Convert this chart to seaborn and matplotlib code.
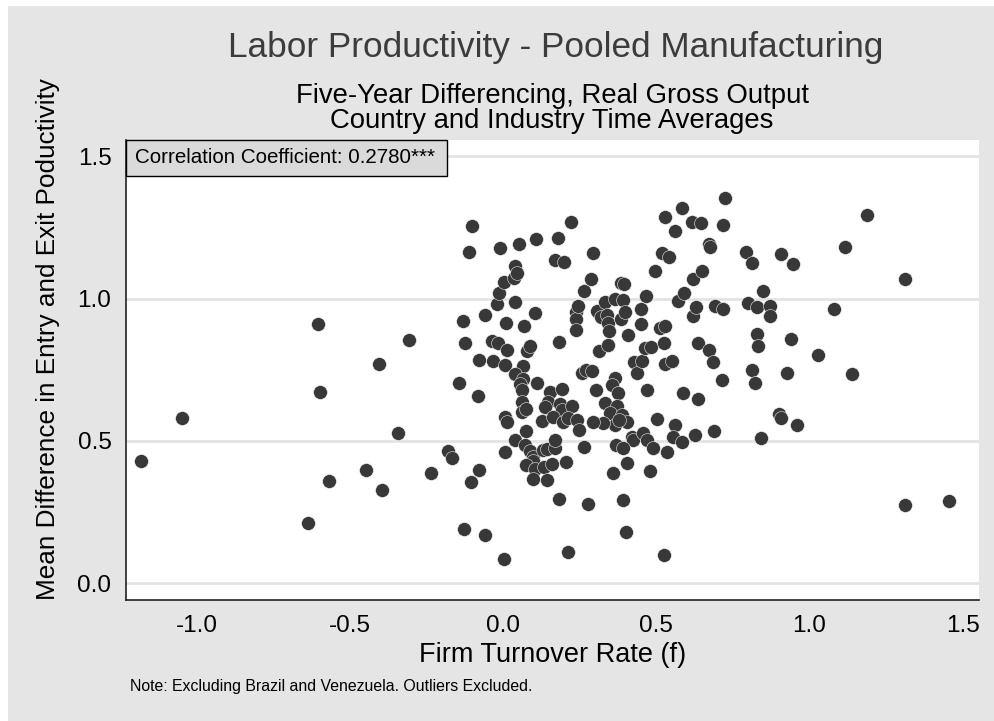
"""
Labor Productivity - Pooled Manufacturing 散点图
输出：out.png
"""
import pandas as pd
import numpy as np
import matplotlib.pyplot as plt
import seaborn as sns
from matplotlib.patches import Rectangle

# =============================================
# 样式
# =============================================
sns.set_style("white")
plt.rcParams['font.family'] = ['Liberation Sans', 'DejaVu Sans']
plt.rcParams['axes.unicode_minus'] = False

# =============================================
# 1. 数据（从图上读出来的）
# =============================================
turnover = [
    -1.180, -1.048, -0.636, -0.605, -0.596, -0.568, -0.448, -0.406, -0.395, -0.344, -0.308,
    -0.235, -0.181, -0.165, -0.144, -0.130, -0.128, -0.125, -0.111, -0.105, -0.101, -0.080,
    -0.079, -0.078, -0.059, -0.058,
    -0.035, -0.032, -0.019, -0.015, -0.013, -0.011, 0.002, 0.005, 0.009, 0.014, 0.035,
    0.038, 0.040, 0.045, 0.052, 0.066, 0.070, 0.077, 0.089, 0.104, 0.109,
    0.003, 0.005, 0.014, 0.038, 0.064, 0.057, 0.061, 0.061, 0.062, 0.074,
    0.075, 0.110, 0.153, 0.148, 0.137, 0.192, 0.186, 0.191, 0.224, 0.126, 0.164, 0.197,
    0.213, 0.240, 0.247, 0.257, 0.270, 0.289, 0.264,
    0.007, 0.040, 0.072, 0.088, 0.097, 0.099, 0.075, 0.104, 0.135, 0.160, 0.131, 0.145,
    0.170, 0.170, 0.206, 0.099, 0.143,
    0.182, 0.213, 0.276,
    0.171, 0.180, 0.182, 0.199, 0.223, 0.237, 0.239, 0.237, 0.244, 0.264, 0.287, 0.294,
    0.314, 0.307, 0.319, 0.332, 0.340, 0.343, 0.344, 0.346, 0.366, 0.385, 0.386, 0.391,
    0.395, 0.397, 0.409, 0.428, 0.438, 0.449, 0.450, 0.453, 0.463, 0.466, 0.483, 0.495,
    0.512, 0.520, 0.526, 0.529, 0.529, 0.530, 0.541, 0.551, 0.561, 0.570, 0.585, 0.592,
    0.617, 0.620, 0.621, 0.630, 0.635, 0.648,
    0.303, 0.365, 0.355, 0.375, 0.469, 0.333, 0.371, 0.349, 0.387, 0.404, 0.365, 0.327,
    0.295, 0.377, 0.501, 0.561, 0.554, 0.583, 0.626, 0.420, 0.425, 0.458, 0.469, 0.490,
    0.534, 0.370, 0.392, 0.404, 0.480, 0.360, 0.586, 0.637, 0.393, 0.400, 0.524,
    0.725, 0.718, 0.646, 0.673, 0.675, 0.793, 0.813, 0.908, 0.946, 1.188, 1.115, 1.312,
    0.849, 0.799, 0.828, 0.871, 0.872, 0.691, 0.717, 1.080, 0.828, 0.831, 0.940, 1.028,
    0.672, 0.685, 0.716, 0.813, 0.821, 0.928, 1.140, 0.901, 0.907, 0.958, 0.687, 0.841,
    1.312, 1.454,
]
prod_gap = [
    0.428, 0.582, 0.212, 0.911, 0.672, 0.359, 0.399, 0.771, 0.328, 0.528, 0.854,
    0.386, 0.464, 0.441, 0.705, 0.920, 0.191, 0.845, 1.164, 0.355, 1.254, 0.658,
    0.397, 0.784, 0.170, 0.942,
    0.852, 0.782, 0.982, 0.843, 1.019, 1.177, 1.059, 0.767, 0.913, 0.818, 1.071,
    0.987, 1.113, 1.091, 1.192, 0.764, 0.905, 0.814, 0.835, 0.950, 1.208,
    0.084, 0.585, 0.566, 0.736, 0.718, 0.700, 0.679, 0.636, 0.603, 0.612,
    0.533, 0.702, 0.670, 0.635, 0.620, 0.681, 0.630, 0.609, 0.621, 0.571, 0.583, 0.565,
    0.580, 0.575, 0.538, 0.740, 0.749, 0.745, 0.477,
    0.461, 0.503, 0.484, 0.463, 0.445, 0.430, 0.414, 0.400, 0.407, 0.418, 0.468, 0.470,
    0.474, 0.503, 0.427, 0.365, 0.362,
    0.296, 0.108, 0.279,
    1.135, 1.212, 0.848, 1.128, 1.268, 0.954, 0.927, 0.891, 0.974, 1.026, 1.069, 1.160,
    0.814, 0.956, 0.936, 0.987, 0.942, 0.838, 0.913, 0.886, 0.999, 0.927, 1.055, 0.995,
    1.052, 0.954, 0.872, 0.777, 0.740, 0.911, 0.965, 0.782, 0.826, 1.010, 0.831, 1.097,
    0.896, 1.161, 0.845, 0.905, 0.770, 1.287, 1.146, 0.780, 1.237, 0.993, 1.318, 1.021,
    1.269, 1.068, 0.937, 0.972, 0.843, 1.097,
    0.680, 0.720, 0.695, 0.667, 0.679, 0.632, 0.621, 0.597, 0.591, 0.568, 0.556, 0.562,
    0.568, 0.574, 0.576, 0.556, 0.515, 0.497, 0.521, 0.515, 0.503, 0.527, 0.503, 0.474,
    0.462, 0.486, 0.474, 0.422, 0.394, 0.386, 0.667, 0.646, 0.294, 0.181, 0.099,
    1.352, 1.259, 1.267, 1.191, 1.180, 1.165, 1.126, 1.158, 1.122, 1.293, 1.180, 1.069,
    1.027, 0.986, 0.972, 0.974, 0.937, 0.975, 0.965, 0.962, 0.876, 0.832, 0.858, 0.802,
    0.821, 0.776, 0.713, 0.750, 0.702, 0.738, 0.736, 0.593, 0.582, 0.555, 0.536, 0.510,
    0.273, 0.290,
]

x_ticks = [-1.0, -0.5, 0.0, 0.5, 1.0, 1.5]
y_ticks = [0.0, 0.5, 1.0, 1.5]

df = pd.DataFrame({"turnover": turnover, "gap": prod_gap})

# =============================================
# 2. 画布（外面一圈灰底，左上角留一点白边）
# =============================================
fig = plt.figure(figsize=(9.94, 7.21), dpi=100, facecolor="white")
fig.patches.append(Rectangle((8 / 994, 0), 1, 1 - 6 / 721, transform=fig.transFigure,
                             facecolor="#e5e5e5", edgecolor="none", zorder=-10))

ax = fig.add_axes([126 / 994, 1 - 600 / 721, 853 / 994, 460 / 721])
ax.set_facecolor("white")

# 网格线
for yv in y_ticks:
    ax.axhline(yv, color="#e3e3e3", linewidth=2, zorder=0)

sns.scatterplot(data=df, x="turnover", y="gap", ax=ax,
                color="#383838", s=100, edgecolor="white", linewidth=0.35,
                zorder=3, legend=False)

ax.set_xlim(-1.23, 1.553)
ax.set_ylim(-0.059, 1.557)
ax.set_xticks(x_ticks)
ax.set_yticks(y_ticks)
ax.set_xticklabels([f"{v:.1f}" for v in x_ticks])
ax.set_yticklabels([f"{v:.1f}" for v in y_ticks])
ax.tick_params(axis="both", direction="out", length=6.5, width=1, color="#222222",
               labelsize=17.5, labelcolor="black", pad=4)
ax.set_xlabel("")
ax.set_ylabel("")

for side in ["top", "right"]:
    ax.spines[side].set_visible(False)
for side in ["left", "bottom"]:
    ax.spines[side].set_color("#222222")
    ax.spines[side].set_linewidth(1.2)

# 相关系数框
ax.add_patch(Rectangle((0, 1 - 36 / 460), 321 / 853, 36 / 460, transform=ax.transAxes,
                       facecolor="#dadada", edgecolor="black", linewidth=1,
                       zorder=5, clip_on=False))
ax.text(9 / 853, 1 - 18 / 460, "Correlation Coefficient: 0.2780***", transform=ax.transAxes,
        ha="left", va="center", fontsize=14.8, color="black", zorder=6)

# =============================================
# 3. 标题、轴标签、注释
# =============================================
fig.text(556 / 994, 1 - 48 / 721, "Labor Productivity - Pooled Manufacturing",
         ha="center", va="center", fontsize=25.3, color="#3c3c3c")
fig.text(0.5555, 1 - 96 / 721, "Five-Year Differencing, Real Gross Output",
         ha="center", va="center", fontsize=19.8, color="black")
fig.text(0.5555, 1 - 121 / 721, "Country and Industry Time Averages",
         ha="center", va="center", fontsize=19.8, color="black")

fig.text(48 / 994, 1 - 339 / 721, "Mean Difference in Entry and Exit Poductivity",
         rotation=90, ha="center", va="center", fontsize=18.8, color="black")
fig.text(0.5555, 1 - 655 / 721, "Firm Turnover Rate (f)",
         ha="center", va="center", fontsize=19.5, color="black")
fig.text(130 / 994, 1 - 686 / 721, "Note: Excluding Brazil and Venezuela. Outliers Excluded.",
         ha="left", va="center", fontsize=11.4, color="black")

plt.savefig("out.png", dpi=100, facecolor=fig.get_facecolor())
plt.close()
print("saved out.png")
